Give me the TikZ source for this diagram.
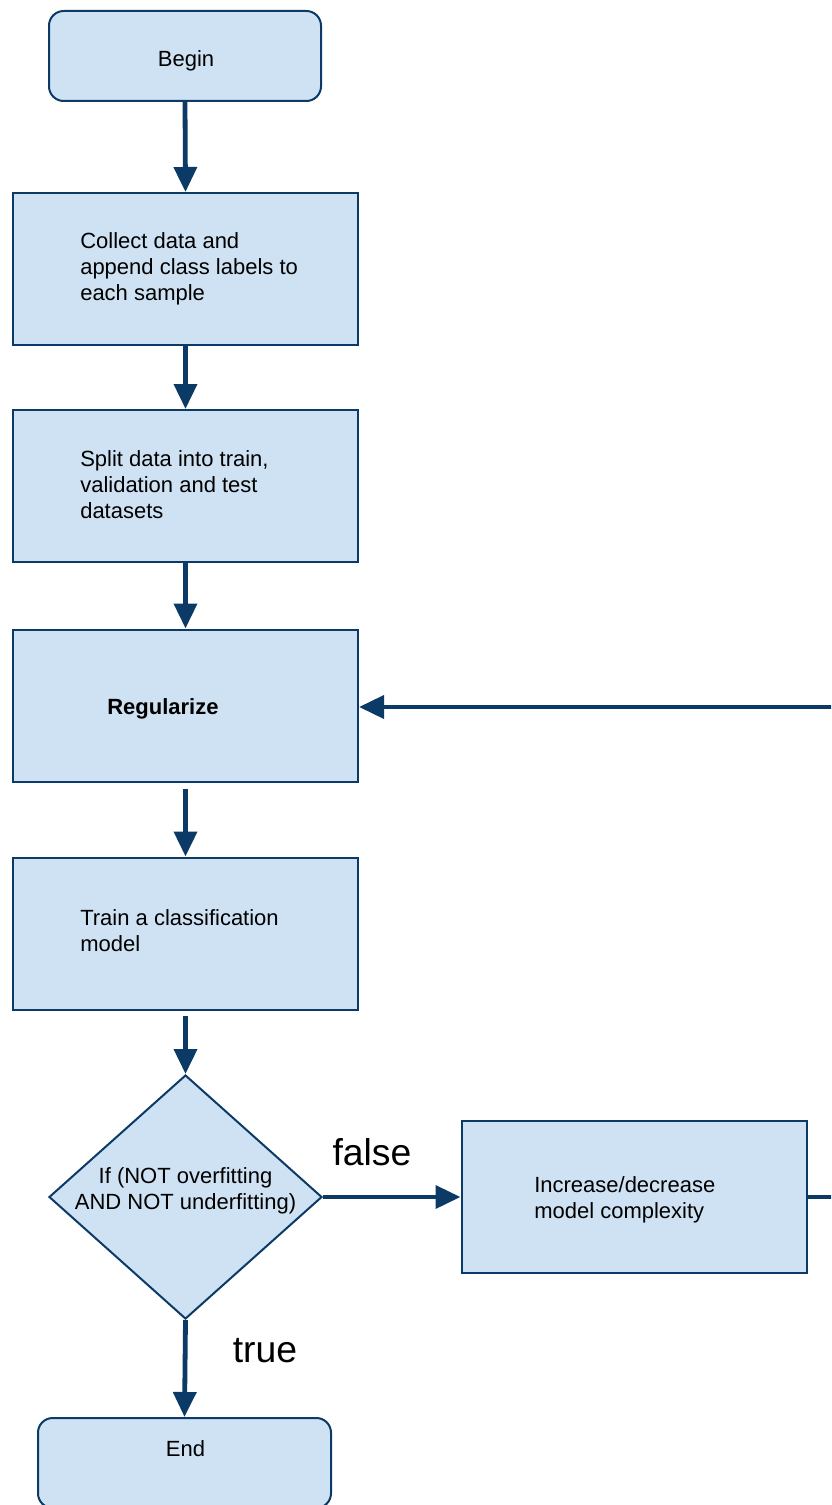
\documentclass[tikz,border=0pt]{standalone}
\usepackage{fontspec}
\setmainfont{Liberation Sans}
\usetikzlibrary{arrows.meta,shapes.geometric}
\definecolor{linecol}{HTML}{0B3A66}
\definecolor{boxfill}{HTML}{CFE2F3}
\begin{document}
\begin{tikzpicture}[x=0.75pt,y=-0.75pt,
  base/.style={draw=linecol, line width=1.5pt, fill=boxfill, inner sep=0pt},
  stepbox/.style={base, rectangle, minimum width=258.75pt, minimum height=114pt},
  terminal/.style={base, rectangle, rounded corners=11pt, minimum height=67.5pt},
  decision/.style={base, diamond, minimum width=204.75pt, minimum height=183pt},
  txt/.style={font=\fontsize{16.5}{19.5}\selectfont, align=left, anchor=west, inner sep=0pt},
  ctxt/.style={font=\fontsize{16.5}{19.5}\selectfont, align=center, inner sep=0pt},
  biglabel/.style={font=\fontsize{28}{32}\selectfont, inner sep=0pt},
  conn/.style={draw=linecol, line width=3.6pt, -{Triangle[length=18.75pt,width=17pt]}}]
\useasboundingbox (0,0) rectangle (831,1505);
\clip (0,0) rectangle (831,1505);

% terminals
\node[terminal, minimum width=204pt] (begin) at (185,56) {};
\node[ctxt] (begintext) at (186,60.5) {Begin};
\node[terminal, minimum width=219.75pt] (finish) at (184.5,1463) {};
\node[ctxt] (finishtext) at (185.5,1449) {End};

% process steps
\node[stepbox] (collect) at (185.5,269) {};
\node[txt] (collecttext) at (80,268.5) {Collect data and\\append class labels to\\each sample};
\node[stepbox] (split) at (185.5,486) {};
\node[txt] (splittext) at (80,484.5) {Split data into train,\\validation and test\\datasets};
\node[stepbox] (reg) at (185.5,705.5) {};
\node[txt, font=\fontsize{16.5}{19.5}\selectfont\bfseries] (regtext) at (107,709) {Regularize};
\node[stepbox] (train) at (185.5,933.5) {};
\node[txt] (traintext) at (80,931) {Train a classification\\model};
\node[stepbox] (incr) at (634,1197) {};
\node[txt] (incrtext) at (534,1200) {Increase/decrease\\model complexity};

% decision
\node[decision] (check) at (185.5,1197) {};
\node[ctxt] (checktext) at (185.5,1191) {If (NOT overfitting\\AND NOT underfitting)};

% branch labels
\node[biglabel] (falselabel) at (372,1152) {false};
\node[biglabel] (truelabel) at (265,1351) {true};

% loop corner points (outside the visible area)
\coordinate (loopA) at (850,1197);
\coordinate (loopB) at (850,707);

% connectors
\draw[conn] (begin.south) -- (collect.north);
\draw[conn] (collect.south) -- (split.north);
\draw[conn] (split.south) -- (reg.north);
\draw[conn, shorten <=5pt] (reg.south) -- (train.north);
\draw[conn, shorten <=4pt] (train.south) -- (check.north);
\draw[conn] (check.east) -- (incr.west);
\draw[conn] (check.south) -- (finish.north);
\draw[conn] (incr.east) -- (loopA) -- (loopB) -- (reg.east |- loopB);
\end{tikzpicture}
\end{document}
